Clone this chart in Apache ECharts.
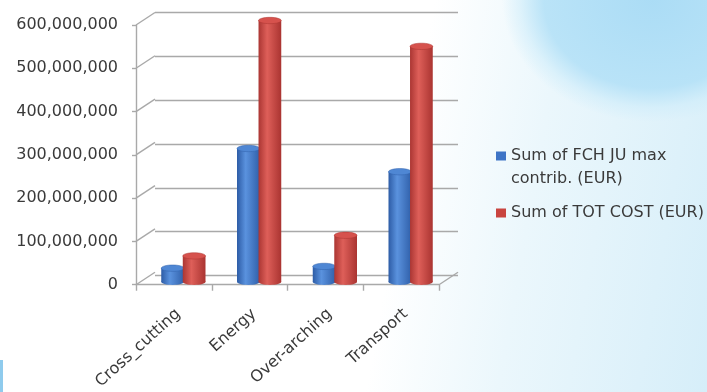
<!DOCTYPE html>
<html>
<head>
<meta charset="utf-8">
<script src="https://cdn.jsdelivr.net/npm/echarts/dist/echarts.min.js"></script>
<style>
html,body{margin:0;padding:0;width:707px;height:392px;overflow:hidden;}
body{
  background:
    radial-gradient(150px 122px at 652px 0px, rgba(168,219,245,0.95) 0%, rgba(180,225,247,0.9) 72%, rgba(205,236,250,0.55) 88%, rgba(255,255,255,0) 100%),
    linear-gradient(100deg, #ffffff 0%, #ffffff 56%, #ebf7fc 73%, #d6eef9 100%);
}
#chart{position:absolute;left:0;top:0;width:707px;height:392px;}
#edge{position:absolute;left:0;top:360px;width:3px;height:32px;background:#8fcbed;}
</style>
</head>
<body>
<div id="edge"></div>
<div id="chart"></div>
<script>
// ---- data ----
const categories = ['Cross_cutting', 'Energy', 'Over-arching', 'Transport'];
const seriesNames = ['Sum of FCH JU max contrib. (EUR)', 'Sum of TOT COST (EUR)'];
const legendLabels = ['\nSum of FCH JU max\ncontrib. (EUR)', 'Sum of TOT COST (EUR)'];
const fchContrib = [31000000, 304000000, 35000000, 251000000];
const totCost = [59000000, 596000000, 106000000, 537000000];
const yTickValues = [0, 100000000, 200000000, 300000000, 400000000, 500000000, 600000000];
const yTickLabels = ['0', '100,000,000', '200,000,000', '300,000,000', '400,000,000', '500,000,000', '600,000,000'];

// ---- style ----
const FONT = 'DejaVu Sans';
const TEXT = '#3a3a3a';
const GRID_COLOR = '#a9a9a9';
const DEPTH = [19, -12.5];
const Y_MIN = yTickValues[0], Y_MAX = yTickValues[yTickValues.length - 1], Y_STEP = yTickValues[1] - yTickValues[0];
const BLUE = ['#2d5ca6', '#5a92de', '#3060aa', '#4f87d4'];
const RED = ['#ab3633', '#de5f59', '#aa3431', '#d6524d'];

const chart = echarts.init(document.getElementById('chart'), null, {renderer: 'canvas'});

function cylinder(side, pal) {
  return function (params, api) {
    const i = api.value(0), v = api.value(1);
    const top = api.coord([i, v]);
    const base = api.coord([i, 0]);
    const band = api.size([1, 0])[0];
    const w = band * 0.3;
    const cx = top[0] + side * (w / 2 - 0.6);
    const ry = w * 0.14;
    const body = new echarts.graphic.LinearGradient(0, 0, 1, 0, [
      {offset: 0, color: pal[0]}, {offset: 0.38, color: pal[1]}, {offset: 1, color: pal[2]}
    ]);
    return {
      type: 'group',
      children: [
        {type: 'ellipse', shape: {cx: cx, cy: base[1], rx: w / 2, ry: ry}, style: {fill: body}},
        {type: 'rect', shape: {x: cx - w / 2, y: top[1], width: w, height: base[1] - top[1]}, style: {fill: body}},
        {type: 'ellipse', shape: {cx: cx, cy: top[1], rx: w / 2, ry: ry}, style: {fill: pal[3], stroke: pal[2], lineWidth: 0.5}}
      ]
    };
  };
}

function diag(edge) {
  return function (params, api) {
    const c = api.coord([api.value(0), api.value(1)]);
    const band = api.size([1, 0])[0];
    const x = c[0] + edge * band / 2;
    return {type: 'line', shape: {x1: x, y1: c[1], x2: x + DEPTH[0], y2: c[1] + DEPTH[1]},
      style: {stroke: GRID_COLOR, lineWidth: 1.4}};
  };
}

const FRONT = {left: 136, top: 25, width: 303, height: 263};
const grids = [
  {left: FRONT.left + DEPTH[0], top: FRONT.top + DEPTH[1], width: FRONT.width, height: FRONT.height},
  {left: FRONT.left + DEPTH[0] / 2, top: FRONT.top + DEPTH[1] / 2, width: FRONT.width, height: FRONT.height},
  FRONT
];

const hiddenY = (idx, split) => ({
  type: 'value', gridIndex: idx, min: Y_MIN, max: Y_MAX, interval: Y_STEP,
  axisLine: {show: false}, axisTick: {show: false}, axisLabel: {show: false},
  splitLine: {show: split, lineStyle: {color: GRID_COLOR, width: 1.4}}
});
const hiddenX = (idx) => ({type: 'category', gridIndex: idx, data: categories, show: false});

const option = {
  backgroundColor: 'transparent',
  animation: false,
  grid: grids.map(g => Object.assign({containLabel: false}, g)),
  xAxis: [
    hiddenX(0), hiddenX(1),
    {
      type: 'category', gridIndex: 2, data: categories,
      axisLine: {show: true, lineStyle: {color: GRID_COLOR, width: 1.4}},
      axisTick: {show: true, length: 6, interval: 0, lineStyle: {color: GRID_COLOR, width: 1.4}},
      axisLabel: {interval: 0, rotate: 42, margin: 31, padding: [0, -6, 0, 0],
        color: TEXT, fontFamily: FONT, fontSize: 16}
    }
  ],
  yAxis: [
    hiddenY(0, true), hiddenY(1, false),
    {
      type: 'value', gridIndex: 2, min: Y_MIN, max: Y_MAX, interval: Y_STEP,
      axisLine: {show: true, lineStyle: {color: GRID_COLOR, width: 1.4}},
      axisTick: {show: true, length: 4, lineStyle: {color: GRID_COLOR, width: 1.4}},
      splitLine: {show: false},
      axisLabel: {margin: 18, color: TEXT, fontFamily: FONT, fontSize: 16,
        formatter: v => yTickLabels[Math.round((v - Y_MIN) / Y_STEP)]}
    }
  ],
  legend: {
    orient: 'vertical', left: 496, top: 121.5, padding: 0, itemGap: 11,
    icon: 'rect', itemWidth: 10, itemHeight: 9,
    textStyle: {color: TEXT, fontFamily: FONT, fontSize: 16, lineHeight: 23},
    formatter: name => legendLabels[seriesNames.indexOf(name)],
    data: [seriesNames[0], seriesNames[1]]
  },
  series: [
    {type: 'custom', silent: true, xAxisIndex: 2, yAxisIndex: 2,
      data: yTickValues.map(v => [0, v]), renderItem: diag(-1), z: 1},
    {type: 'custom', silent: true, xAxisIndex: 2, yAxisIndex: 2,
      data: [[categories.length - 1, 0]], renderItem: diag(1), z: 1},
    {name: seriesNames[0], type: 'custom', xAxisIndex: 1, yAxisIndex: 1,
      itemStyle: {color: '#3e74c6'}, encode: {x: 0, y: 1},
      data: fchContrib.map((v, i) => [i, v]), renderItem: cylinder(-1, BLUE), z: 3},
    {name: seriesNames[1], type: 'custom', xAxisIndex: 1, yAxisIndex: 1,
      itemStyle: {color: '#c9443f'}, encode: {x: 0, y: 1},
      data: totCost.map((v, i) => [i, v]), renderItem: cylinder(1, RED), z: 4}
  ]
};
chart.setOption(option);
</script>
</body>
</html>
